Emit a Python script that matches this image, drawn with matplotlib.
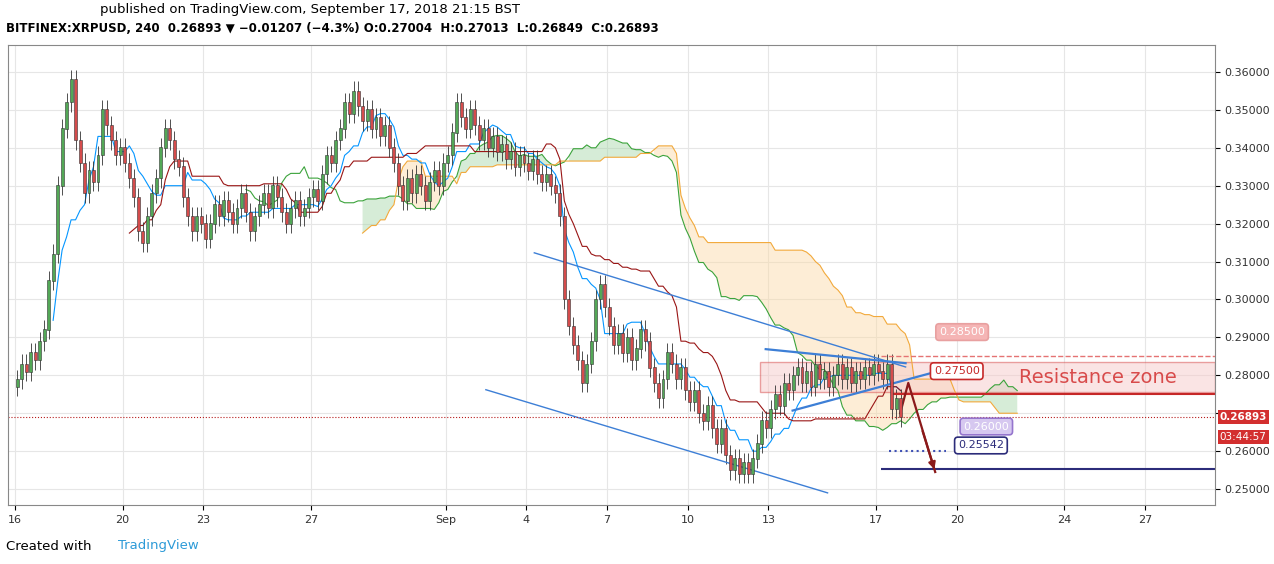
import numpy as np
import matplotlib.pyplot as plt
from matplotlib.patches import Rectangle

# 4h closes, six per day, starting Aug 16 00:00
closes = [
    0.279, 0.283, 0.281, 0.286, 0.284, 0.289,
    0.292, 0.305, 0.312, 0.330, 0.345, 0.352,
    0.358, 0.342, 0.336, 0.328, 0.334, 0.331,
    0.338, 0.350, 0.346, 0.342, 0.338, 0.340,
    0.336, 0.332, 0.327, 0.318, 0.315, 0.322,
    0.328, 0.332, 0.340, 0.345, 0.342, 0.337,
    0.335, 0.327, 0.322, 0.318, 0.322, 0.320,
    0.316, 0.320, 0.325, 0.322, 0.326, 0.323,
    0.320, 0.324, 0.328, 0.323, 0.318, 0.322,
    0.325, 0.328, 0.324, 0.330, 0.327, 0.323,
    0.320, 0.324, 0.326, 0.322, 0.324, 0.327,
    0.329, 0.326, 0.333, 0.338, 0.336, 0.342,
    0.345, 0.352, 0.349, 0.355, 0.351, 0.347,
    0.350, 0.345, 0.348, 0.343, 0.346, 0.340,
    0.336, 0.330, 0.326, 0.332, 0.328, 0.333,
    0.330, 0.326, 0.331, 0.334, 0.330, 0.336,
    0.338, 0.344, 0.352, 0.348, 0.345, 0.350,
    0.346, 0.342, 0.345, 0.340, 0.343, 0.339,
    0.341, 0.337, 0.339, 0.335, 0.338, 0.336,
    0.334, 0.337, 0.333, 0.331, 0.333, 0.330,
    0.328, 0.322, 0.300, 0.293, 0.288, 0.284,
    0.278, 0.283, 0.289, 0.300, 0.304, 0.298,
    0.293, 0.288, 0.291, 0.286, 0.290, 0.284,
    0.287, 0.292, 0.289, 0.282, 0.278, 0.274,
    0.279, 0.286, 0.283, 0.279, 0.282, 0.276,
    0.273, 0.276, 0.270, 0.268, 0.272, 0.266,
    0.262, 0.266, 0.259, 0.255, 0.258, 0.254,
    0.257, 0.254, 0.258, 0.262, 0.268, 0.266,
    0.271, 0.275, 0.272, 0.278, 0.276, 0.280,
    0.282, 0.278, 0.281, 0.277, 0.283, 0.279,
    0.281, 0.277, 0.280, 0.283, 0.279, 0.282,
    0.278, 0.281, 0.279, 0.282, 0.280, 0.283,
    0.281, 0.279, 0.283, 0.271, 0.274, 0.26893,
]
first_open = 0.277
wick = 0.0025

tick_days = [0, 4, 7, 11, 16, 19, 22, 25, 28, 32, 35, 39, 42]
tick_labels = ["16", "20", "23", "27", "Sep", "4", "7", "10", "13", "17", "20", "24", "27"]
price_ticks = [0.25, 0.26, 0.27, 0.28, 0.29, 0.30, 0.31, 0.32, 0.33, 0.34, 0.35, 0.36]

last_price = 0.26893
res_low, res_high = 0.2755, 0.2835
level_285, level_275, level_260, level_255 = 0.285, 0.275, 0.260, 0.25542

c = np.array(closes)
o = np.concatenate([[first_open], c[:-1]])
hi = np.maximum(o, c) + wick
lo = np.minimum(o, c) - wick
n = len(c)
t = np.arange(n) / 6.0 + 1 / 12

fig = plt.figure(figsize=(12.74, 5.64), dpi=100)
ax = fig.add_axes([0.0063, 0.1046, 0.9474, 0.8156])
ax.set_xlim(-0.26, 44.6)
ax.set_ylim(0.2458, 0.3671)

# ichimoku
def mid(k):
    out = np.full(n, np.nan)
    for i in range(k - 1, n):
        out[i] = (hi[i - k + 1:i + 1].max() + lo[i - k + 1:i + 1].min()) / 2
    return out

tenkan, kijun, span_b = mid(9), mid(26), mid(52)
span_a = (tenkan + kijun) / 2
ts = np.arange(n + 26) / 6.0 + 1 / 12
a = np.concatenate([np.full(26, np.nan), span_a])
b = np.concatenate([np.full(26, np.nan), span_b])
ax.plot(ts, a, color="#3ba33b", lw=0.8)
ax.plot(ts, b, color="#f2a93b", lw=0.8)
ax.fill_between(ts, a, b, where=a >= b, color="#a5d6a7", alpha=0.45, lw=0)
ax.fill_between(ts, a, b, where=a < b, color="#fbd9a5", alpha=0.45, lw=0)
ax.plot(t, tenkan, color="#0496ff", lw=0.8)
ax.plot(t, kijun, color="#991515", lw=0.8)

# candles
for i in range(n):
    col = "#53a857" if c[i] >= o[i] else "#d54c4c"
    ax.vlines(t[i], lo[i], hi[i], color="#333333", lw=0.6)
    ax.bar(t[i], abs(c[i] - o[i]) + 1e-4, bottom=min(o[i], c[i]), width=0.11,
           color=col, edgecolor="#333333", lw=0.4, zorder=3)

# grid
for d in tick_days:
    ax.axvline(d, color="#e6e6e6", lw=0.8, zorder=0)
for p in price_ticks:
    ax.axhline(p, color="#e6e6e6", lw=0.8, zorder=0)

# drawings
ax.plot([19.3, 33.1], [0.3123, 0.2822], color="#3d7fd6", lw=1)
ax.plot([17.5, 30.2], [0.2762, 0.2490], color="#3d7fd6", lw=1)
ax.plot([27.9, 33.1], [0.2869, 0.2832], color="#3d7fd6", lw=1.6)
ax.plot([28.9, 34.0], [0.2707, 0.2805], color="#3d7fd6", lw=1.6)
ax.add_patch(Rectangle((27.7, res_low), 44.6 - 27.7, res_high - res_low,
                       facecolor="#f7caca", edgecolor="#d84b4b", alpha=0.5, lw=1))
ax.text(37.3, (res_low + res_high) / 2, "Resistance zone", color="#d84b4b",
        fontsize=14, va="center")
ax.hlines(level_285, 32.2, 44.6, color="#e57373", ls="--", lw=1)
ax.hlines(level_275, 32.6, 44.6, color="#c62828", lw=1.5)
ax.hlines(level_260, 32.5, 34.6, color="#3f51b5", ls=":", lw=1.5)
ax.hlines(level_255, 32.2, 44.6, color="#2c2c7a", lw=1.5)
ax.axhline(last_price, color="#b71c1c", ls=":", lw=0.8)
ax.plot([32.9, 33.2, 34.2], [0.2700, 0.2780, 0.2545], color="#8b1a1a", lw=1.6)
ax.annotate("", xy=(34.2, 0.2545), xytext=(33.7, 0.2660),
            arrowprops=dict(arrowstyle="-|>", color="#8b1a1a", lw=1.6))

def tag(x, y, s, ec, fc, tc):
    ax.text(x, y, s, fontsize=8, color=tc, ha="center", va="center",
            bbox=dict(boxstyle="round,pad=0.3", fc=fc, ec=ec, lw=1.2))

tag(35.2, 0.2914, "0.28500", "#e8a0a0", "#f5b5b5", "white")
tag(35.0, 0.2811, "0.27500", "#c62828", "white", "#c62828")
tag(36.1, 0.2665, "0.26000", "#9575cd", "#d6c8f0", "white")
tag(35.9, 0.2615, "0.25542", "#2c2c7a", "white", "#2c2c7a")

ax.set_xticks(tick_days)
ax.set_xticklabels(tick_labels, fontsize=8, color="#333333")
ax.yaxis.tick_right()
ax.set_yticks(price_ticks)
# the 0.27000 label sits under the last-price tag, as in the reference
ax.set_yticklabels(["" if abs(p - 0.27) < 1e-9 else f"{p:.5f}" for p in price_ticks],
                   fontsize=8, color="#333333")
for s in ax.spines.values():
    s.set_color("#888888")

ax.text(1.004, last_price, f"{last_price:.5f}", transform=ax.get_yaxis_transform(),
        fontsize=7.5, color="white", weight="bold", va="center",
        bbox=dict(boxstyle="square,pad=0.2", fc="#d32f2f", ec="none"))
ax.text(1.004, last_price - 0.0052, "03:44:57", transform=ax.get_yaxis_transform(),
        fontsize=7.5, color="white", va="center",
        bbox=dict(boxstyle="square,pad=0.2", fc="#d32f2f", ec="none"))

fig.text(100 / 1274, 1 - 10 / 564, "published on TradingView.com, September 17, 2018 21:15 BST",
         fontsize=9.5, va="center")
fig.text(6 / 1274, 1 - 29 / 564, "BITFINEX:XRPUSD, 240  0.26893 \u25bc \u22120.01207 (\u22124.3%) "
         "O:0.27004  H:0.27013  L:0.26849  C:0.26893", fontsize=8.5, weight="bold", va="center")
fig.text(6 / 1274, 1 - 546 / 564, "Created with", fontsize=9.5, va="center")
fig.text(118 / 1274, 1 - 546 / 564, "TradingView", fontsize=9.5, color="#2d9bd8", va="center")

fig.savefig("out.png", dpi=100)
